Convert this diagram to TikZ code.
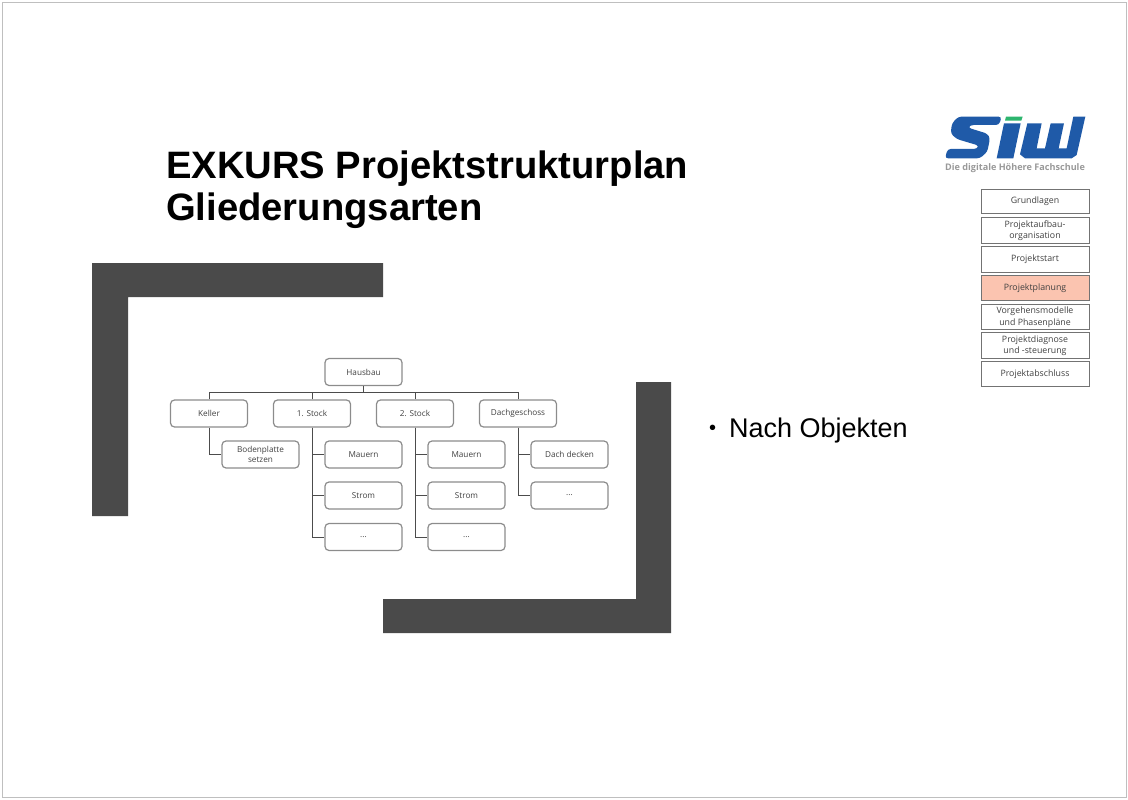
\documentclass[tikz,border=0pt]{standalone}
\usepackage{fontspec}
\setmainfont{Liberation Sans}
\newfontfamily\boxfont{Open Sans}
\usetikzlibrary{calc}
\definecolor{frameGray}{HTML}{4A4A4A}
\definecolor{logoBlue}{HTML}{1F5AA8}
\definecolor{logoGreen}{HTML}{2DB56E}
\definecolor{planRed}{HTML}{FBC4B0}
\tikzset{
	treebox/.style={draw=black!45, line width=1.2pt, rounded corners=4pt, minimum width=77pt, minimum height=27pt, inner sep=0pt, align=center, font=\boxfont\fontsize{8.2}{10}\selectfont, text=black!75},
	treeline/.style={draw=black!70, line width=0.9pt},
	menubox/.style={draw=black!55, line width=1pt, minimum width=108pt, inner sep=0pt, align=center, font=\boxfont\fontsize{8.8}{11.5}\selectfont, text=black!75}
}
\begin{document}
\begin{tikzpicture}[x=1pt, y=-1pt]
			%%%%% START %%%%%
			\useasboundingbox (0, 0) rectangle (1128, 800);
			\draw[black!25, line width=0.8pt] (2, 2) rectangle (1126, 797);
			
			\node[anchor=base west, inner sep=0pt, font=\bfseries\fontsize{38.2}{43}\selectfont] (title) at (166, 178) {EXKURS Projektstrukturplan};
			\node[anchor=base west, inner sep=0pt, font=\bfseries\fontsize{38.2}{43}\selectfont] (subtitle) at (166, 220) {Gliederungsarten};
			
			\fill[frameGray] (92, 263) -- (383, 263) -- (383, 297) -- (128, 297) -- (128, 516) -- (92, 516) -- cycle;
			\fill[frameGray] (636, 382) -- (671, 382) -- (671, 633) -- (383, 633) -- (383, 599) -- (636, 599) -- cycle;
			
			\node[anchor=base west, inner sep=0pt, font=\fontsize{20}{24}\selectfont] (bullet) at (709, 434) {•};
			\node[anchor=base west, inner sep=0pt, font=\fontsize{27}{32}\selectfont] (objekte) at (729, 437) {Nach Objekten};
			
			% tree
			\node[treebox] (hausbau) at (363.5, 372) {Hausbau};
			\node[treebox] (keller) at (209, 413.5) {Keller};
			\node[treebox] (stock1) at (312, 413.5) {1. Stock};
			\node[treebox] (stock2) at (415, 413.5) {2. Stock};
			\node[treebox] (dach) at (518, 413.5) {Dachgeschoss};
			
			\node[treebox] (platte) at (260.5, 454.5) {Bodenplatte\\setzen};
			\node[treebox] (mauern1) at (363.5, 454.5) {Mauern};
			\node[treebox] (strom1) at (363.5, 495.5) {Strom};
			\node[treebox] (rest1) at (363.5, 537) {...};
			\node[treebox] (mauern2) at (466.5, 454.5) {Mauern};
			\node[treebox] (strom2) at (466.5, 495.5) {Strom};
			\node[treebox] (rest2) at (466.5, 537) {...};
			\node[treebox] (decken) at (569.5, 454.5) {Dach decken};
			\node[treebox] (rest3) at (569.5, 495.5) {...};
			
			\coordinate (bus) at ($(hausbau.south)+(0, 6)$);
			\draw[treeline] (hausbau.south) -- (bus);
			\draw[treeline] (keller.north) |- (bus);
			\draw[treeline] (stock1.north) |- (bus);
			\draw[treeline] (stock2.north) |- (bus);
			\draw[treeline] (dach.north) |- (bus);
			
			\draw[treeline] (keller.south) |- (platte.west);
			\draw[treeline] (stock1.south) |- (mauern1.west);
			\draw[treeline] (stock1.south) |- (strom1.west);
			\draw[treeline] (stock1.south) |- (rest1.west);
			\draw[treeline] (stock2.south) |- (mauern2.west);
			\draw[treeline] (stock2.south) |- (strom2.west);
			\draw[treeline] (stock2.south) |- (rest2.west);
			\draw[treeline] (dach.south) |- (decken.west);
			\draw[treeline] (dach.south) |- (rest3.west);
			
			% logo
			\begin{scope}[shift={(930, 105)}, x=0.3333pt, y=-0.3333pt]
				\fill[logoBlue, rounded corners=3pt] (85, 35) -- (215, 35) -- (207, 60) -- (122, 60) -- (114, 68) -- (172, 86) -- (180, 100) -- (172, 140) -- (150, 160) -- (45, 160) -- (53, 132) -- (140, 132) -- (147, 122) -- (80, 102) -- (62, 85) -- (66, 55) -- cycle;
				\fill[logoGreen] (228, 35) -- (278, 35) -- (274, 47) -- (225, 47) -- cycle;
				\fill[logoBlue] (222, 55) -- (272, 55) -- (250, 160) -- (200, 160) -- cycle;
				\fill[logoBlue] (292, 55) -- (335, 55) -- (320, 130) -- (345, 130) -- (362, 55) -- (402, 55) -- (386, 130) -- (410, 130) -- (430, 35) -- (466, 35) -- (440, 150) -- (425, 160) -- (285, 160) -- (270, 148) -- cycle;
			\end{scope}
			\node[inner sep=0pt, font=\boxfont\bfseries\fontsize{9.1}{10}\selectfont, text=black!40] (slogan) at (1015, 168) {Die digitale Höhere Fachschule};
			
			% menu
			\node[menubox, minimum height=24pt] (grund) at (1035, 201.5) {Grundlagen};
			\node[menubox, minimum height=26pt] (aufbau) at (1035, 230.5) {Projektaufbau-\\organisation};
			\node[menubox, minimum height=26pt] (start) at (1035, 259.5) {Projektstart};
			\node[menubox, minimum height=25pt, fill=planRed] (planung) at (1035, 288) {Projektplanung};
			\node[menubox, minimum height=25pt] (modelle) at (1035, 317) {Vorgehensmodelle\\und Phasenpläne};
			\node[menubox, minimum height=26pt] (diagnose) at (1035, 345.5) {Projektdiagnose\\und -steuerung};
			\node[menubox, minimum height=25pt] (abschluss) at (1035, 374) {Projektabschluss};
			%%%%% END %%%%%
		\end{tikzpicture}
\end{document}
